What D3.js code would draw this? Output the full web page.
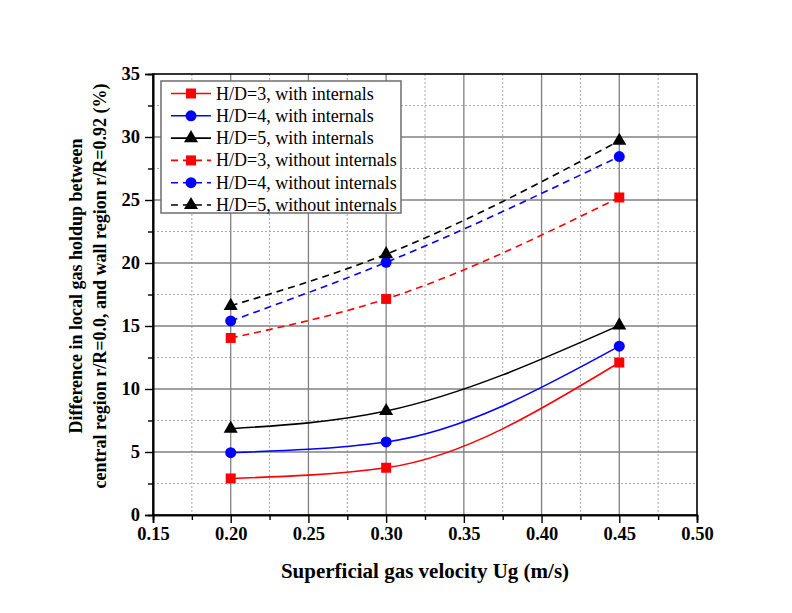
<!DOCTYPE html>
<html>
<head>
<meta charset="utf-8">
<script src="https://cdn.jsdelivr.net/npm/d3@7"></script>
<style>
  html, body { margin: 0; padding: 0; background: #ffffff; }
  svg { display: block; font-family: "Liberation Serif", "Times New Roman", serif; }
</style>
</head>
<body>
<svg id="chart" width="792" height="613"></svg>
<script>
// Superficial gas velocity (m/s)
const velocities = [0.20, 0.30, 0.45];

// Difference in local gas holdup (%) for each configuration
const hd3With    = [2.9, 3.75, 12.1];
const hd4With    = [4.95, 5.8, 13.4];
const hd5With    = [6.85, 8.25, 15.05];
const hd3Without = [14.05, 17.15, 25.2];
const hd4Without = [15.4, 20.05, 28.45];
const hd5Without = [16.6, 20.7, 29.7];

const seriesLabels = [
  "H/D=3, with internals",
  "H/D=4, with internals",
  "H/D=5, with internals",
  "H/D=3, without internals",
  "H/D=4, without internals",
  "H/D=5, without internals"
];

const xTicks = [0.15, 0.20, 0.25, 0.30, 0.35, 0.40, 0.45, 0.50];
const yTicks = [0, 5, 10, 15, 20, 25, 30, 35];
const xMinor = [0.175, 0.225, 0.275, 0.325, 0.375, 0.425, 0.475];
const yMinor = [2.5, 7.5, 12.5, 17.5, 22.5, 27.5, 32.5];

const series = [
  { label: seriesLabels[0], values: hd3With,    color: "#ff0000", marker: "square",   dashed: false },
  { label: seriesLabels[1], values: hd4With,    color: "#0000ff", marker: "circle",   dashed: false },
  { label: seriesLabels[2], values: hd5With,    color: "#000000", marker: "triangle", dashed: false },
  { label: seriesLabels[3], values: hd3Without, color: "#ff0000", marker: "square",   dashed: true },
  { label: seriesLabels[4], values: hd4Without, color: "#0000ff", marker: "circle",   dashed: true },
  { label: seriesLabels[5], values: hd5Without, color: "#000000", marker: "triangle", dashed: true }
];

const svg = d3.select("#chart");
const plot = { left: 153, right: 697, top: 74, bottom: 515 };
const serif = "'Liberation Serif', 'Times New Roman', serif";

const x = d3.scaleLinear().domain([0.15, 0.50]).range([plot.left, plot.right]);
const y = d3.scaleLinear().domain([0, 35]).range([plot.bottom, plot.top]);

// Grid: minor dotted, major solid
const grid = svg.append("g");
grid.selectAll(".xminor").data(xMinor).join("line")
  .attr("x1", d => x(d)).attr("x2", d => x(d))
  .attr("y1", plot.top).attr("y2", plot.bottom)
  .attr("stroke", "#a8a8a8").attr("stroke-width", 1).attr("stroke-dasharray", "2,2");
grid.selectAll(".yminor").data(yMinor).join("line")
  .attr("y1", d => y(d)).attr("y2", d => y(d))
  .attr("x1", plot.left).attr("x2", plot.right)
  .attr("stroke", "#a8a8a8").attr("stroke-width", 1).attr("stroke-dasharray", "2,2");
grid.selectAll(".xmajor").data(xTicks.slice(1, -1)).join("line")
  .attr("x1", d => x(d)).attr("x2", d => x(d))
  .attr("y1", plot.top).attr("y2", plot.bottom)
  .attr("stroke", "#808080").attr("stroke-width", 1.3);
grid.selectAll(".ymajor").data(yTicks.slice(1, -1)).join("line")
  .attr("y1", d => y(d)).attr("y2", d => y(d))
  .attr("x1", plot.left).attr("x2", plot.right)
  .attr("stroke", "#808080").attr("stroke-width", 1.3);

// Frame
svg.append("rect")
  .attr("x", plot.left).attr("y", plot.top)
  .attr("width", plot.right - plot.left).attr("height", plot.bottom - plot.top)
  .attr("fill", "none").attr("stroke", "#000").attr("stroke-width", 1.6);

// Axes
const xAxis = svg.append("g").attr("transform", `translate(0,${plot.bottom})`)
  .call(d3.axisBottom(x).tickValues(xTicks).tickFormat(d3.format(".2f")).tickSize(8).tickPadding(4));
const xAxisMinor = svg.append("g").attr("transform", `translate(0,${plot.bottom})`)
  .call(d3.axisBottom(x).tickValues(xMinor).tickFormat("").tickSize(5));
const yAxis = svg.append("g").attr("transform", `translate(${plot.left},0)`)
  .call(d3.axisLeft(y).tickValues(yTicks).tickFormat(d3.format("d")).tickSize(8).tickPadding(5));
const yAxisMinor = svg.append("g").attr("transform", `translate(${plot.left},0)`)
  .call(d3.axisLeft(y).tickValues(yMinor).tickFormat("").tickSize(5));

[xAxis, xAxisMinor, yAxis, yAxisMinor].forEach(g => {
  g.attr("font-family", serif).attr("font-size", "18.5px").attr("font-weight", "bold");
  g.select(".domain").attr("stroke", "#000").attr("stroke-width", 1.6);
  g.selectAll(".tick line").attr("stroke", "#000").attr("stroke-width", 1.4);
  g.selectAll(".tick text").attr("fill", "#000");
});

// Lines
const line = d3.line()
  .x((d, i) => x(velocities[i]))
  .y(d => y(d))
  .curve(d3.curveMonotoneX);

svg.append("g").selectAll("path").data(series).join("path")
  .attr("d", s => line(s.values))
  .attr("fill", "none")
  .attr("stroke", s => s.color)
  .attr("stroke-width", 1.6)
  .attr("stroke-dasharray", s => s.dashed ? "7,5" : null);

// Markers
const symbolType = { square: d3.symbolSquare, circle: d3.symbolCircle, triangle: d3.symbolTriangle };
const symbolSize = { square: 100, circle: 95, triangle: 85 };
function drawMarker(g, s, cx, cy) {
  g.append("path")
    .attr("d", d3.symbol().type(symbolType[s.marker]).size(symbolSize[s.marker])())
    .attr("transform", `translate(${cx},${cy})`)
    .attr("fill", s.color);
}
const markers = svg.append("g");
series.forEach(s => {
  s.values.forEach((v, i) => drawMarker(markers, s, x(velocities[i]), y(v)));
});

// Legend
const legend = svg.append("g");
legend.append("rect")
  .attr("x", 161).attr("y", 81).attr("width", 240).attr("height", 132)
  .attr("fill", "#ffffff").attr("stroke", "#6e6e6e").attr("stroke-width", 1.5);
series.forEach((s, i) => {
  const cy = 93.5 + i * 22.3;
  legend.append("line")
    .attr("x1", 171).attr("x2", 211).attr("y1", cy).attr("y2", cy)
    .attr("stroke", s.color).attr("stroke-width", 1.6)
    .attr("stroke-dasharray", s.dashed ? "7,5" : null);
  drawMarker(legend, s, 191, cy);
  legend.append("text")
    .attr("x", 216).attr("y", cy + 6)
    .attr("font-size", "18px").attr("fill", "#000")
    .text(s.label);
});

// Axis titles
svg.append("text")
  .attr("x", 425).attr("y", 578)
  .attr("text-anchor", "middle")
  .attr("font-size", "21px").attr("font-weight", "bold")
  .text("Superficial gas velocity Ug (m/s)");

const yTitle = svg.append("text")
  .attr("transform", `translate(0,286) rotate(-90)`)
  .attr("text-anchor", "middle")
  .attr("font-size", "18px").attr("font-weight", "bold");
yTitle.append("tspan").attr("x", 0).attr("y", 82).text("Difference in local gas holdup between");
yTitle.append("tspan").attr("x", 0).attr("y", 106).text("central region r/R=0.0, and wall region r/R=0.92 (%)");
</script>
</body>
</html>
